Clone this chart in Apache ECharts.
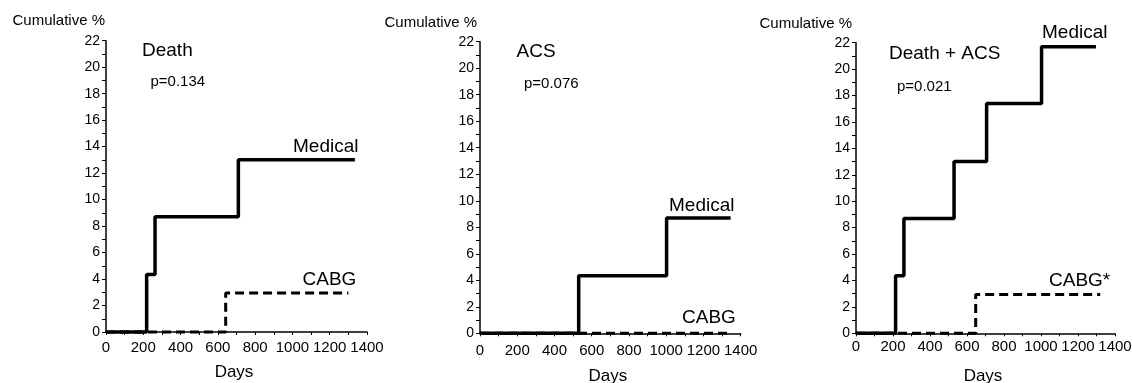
<!DOCTYPE html>
<html>
<head>
<meta charset="utf-8">
<script src="https://cdn.jsdelivr.net/npm/echarts@6/dist/echarts.min.js"></script>
<style>
html,body{margin:0;padding:0;background:#fff;}
#c{width:1132px;height:383px;}
</style>
</head>
<body>
<div id="c"></div>
<script>
// ---- data (days, cumulative %) ----
const xTicks = [0, 200, 400, 600, 800, 1000, 1200, 1400];
const yTicks = [0, 2, 4, 6, 8, 10, 12, 14, 16, 18, 20, 22];

const deathMedDays = [0, 218, 263, 710, 1335];
const deathMedPct  = [0, 4.35, 8.7, 13.0, 13.0];
const deathCabgDays = [0, 642, 1300];
const deathCabgPct  = [0, 2.94, 2.94];

const acsMedDays = [0, 530, 1002, 1346];
const acsMedPct  = [0, 4.35, 8.7, 8.7];
const acsCabgDays = [0, 1350];
const acsCabgPct  = [0, 0];

const bothMedDays = [0, 214, 259, 530, 706, 1003, 1297];
const bothMedPct  = [0, 4.35, 8.7, 13.0, 17.4, 21.7, 21.7];
const bothCabgDays = [0, 647, 1320];
const bothCabgPct  = [0, 2.94, 2.94];

const panelTitles = ['Death', 'ACS', 'Death + ACS'];
const pValues = ['p=0.134', 'p=0.076', 'p=0.021'];
const medLabel = 'Medical';
const cabgLabels = ['CABG', 'CABG', 'CABG*'];

function zip(a, b) { return a.map((v, i) => [v, b[i]]); }

const FONT = 'Liberation Sans';
const grids = [
  {left: 106, top: 40.7, width: 261, height: 291.3},
  {left: 480, top: 41.7, width: 260.7, height: 291.6},
  {left: 856, top: 42.7, width: 259, height: 290.6}
];
const xLabelMargin = [8.5, 10, 6];
const xNameGap = [32, 35, 35];
const yNameGap = [20, 19, 19];
const yNamePadRight = [1, 3, 4];

const xAxes = grids.map((g, i) => ({
  type: 'value', gridIndex: i, min: 0, max: 1400, interval: 200,
  name: 'Days', nameLocation: 'middle', nameGap: xNameGap[i],
  nameTextStyle: {fontFamily: FONT, fontSize: 17, color: '#000', padding: [0, 5, 0, 0]},
  axisLine: {show: true, onZero: false, lineStyle: {color: '#000', width: 1.5}},
  axisTick: {show: true, inside: false, length: 3, lineStyle: {color: '#000', width: 1}},
  minorTick: {show: true, splitNumber: 2, length: 3, lineStyle: {color: '#000', width: 1}},
  axisLabel: {fontFamily: FONT, fontSize: 15, color: '#000', margin: xLabelMargin[i],
    hideOverlap: false, showMinLabel: true, showMaxLabel: true,
    formatter: v => xTicks.includes(v) ? String(v) : ''},
  splitLine: {show: false}
}));

const yAxes = grids.map((g, i) => ({
  type: 'value', gridIndex: i, min: 0, max: 22, interval: 2,
  name: 'Cumulative %', nameLocation: 'end', nameGap: yNameGap[i],
  nameTextStyle: {fontFamily: FONT, fontSize: 15, color: '#000', align: 'right', verticalAlign: 'middle',
    padding: [0, yNamePadRight[i], 0, 0]},
  axisLine: {show: true, onZero: false, lineStyle: {color: '#000', width: 1.5}},
  axisTick: {show: true, inside: false, length: 4, lineStyle: {color: '#000', width: 1}},
  minorTick: {show: true, splitNumber: 2, length: 4, lineStyle: {color: '#000', width: 1}},
  axisLabel: {fontFamily: FONT, fontSize: 14, color: '#000', margin: 6,
    formatter: v => yTicks.includes(v) ? String(v) : ''},
  splitLine: {show: false}
}));

function medSeries(i, d) {
  return {type: 'line', name: medLabel, xAxisIndex: i, yAxisIndex: i, step: 'end', data: d,
    symbol: 'none', clip: false, z: 3, lineStyle: {color: '#000', width: 3.5}};
}
function cabgSeries(i, d) {
  return {type: 'line', name: cabgLabels[i], xAxisIndex: i, yAxisIndex: i, step: 'end', data: d,
    symbol: 'none', clip: false, z: 2, lineStyle: {color: '#000', width: 3, type: [9, 5]}};
}

const series = [
  medSeries(0, zip(deathMedDays, deathMedPct)),
  cabgSeries(0, zip(deathCabgDays, deathCabgPct)),
  medSeries(1, zip(acsMedDays, acsMedPct)),
  cabgSeries(1, zip(acsCabgDays, acsCabgPct)),
  medSeries(2, zip(bothMedDays, bothMedPct)),
  cabgSeries(2, zip(bothCabgDays, bothCabgPct))
];

function txt(s, x, y, size) {
  return {type: 'text', left: x, top: y - size * 0.5, z: 10,
    style: {text: s, fontFamily: FONT, fontSize: size, fill: '#000'}};
}

const graphic = [
  txt(panelTitles[0], 142, 51, 19),
  txt(pValues[0], 150.5, 82, 15),
  txt(medLabel, 293, 147, 19),
  txt(cabgLabels[0], 302.5, 280, 19),

  txt(panelTitles[1], 516.5, 52, 19),
  txt(pValues[1], 524, 84, 15),
  txt(medLabel, 669, 206, 19),
  txt(cabgLabels[1], 682, 318, 19),

  txt(panelTitles[2], 889, 54, 19),
  txt(pValues[2], 897, 86.5, 15),
  txt(medLabel, 1042, 33, 19),
  txt(cabgLabels[2], 1049, 281, 19)
];

const chart = echarts.init(document.getElementById('c'), null, {renderer: 'canvas'});
chart.setOption({
  animation: false,
  backgroundColor: '#fff',
  grid: grids.map(g => Object.assign({containLabel: false, outerBoundsMode: 'none'}, g)),
  xAxis: xAxes,
  yAxis: yAxes,
  series: series,
  graphic: graphic
});
</script>
</body>
</html>
